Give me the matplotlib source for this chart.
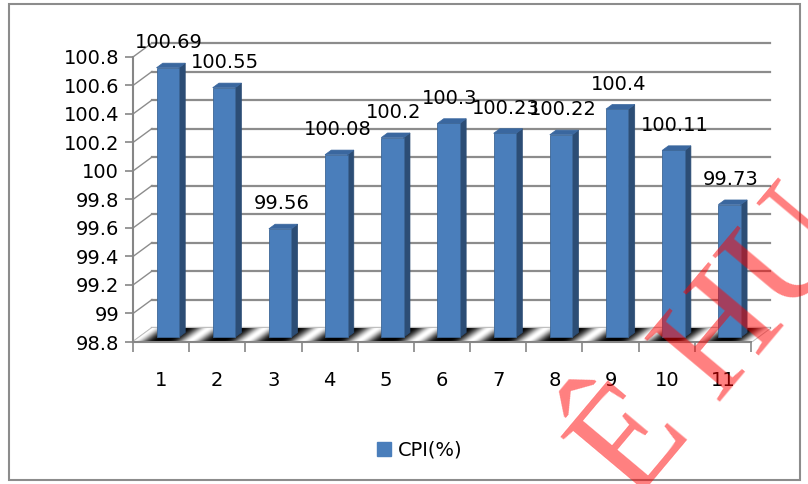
import matplotlib
matplotlib.use("Agg")
import matplotlib.pyplot as plt
import numpy as np
from matplotlib.patches import Polygon, Rectangle, Patch

# data
months = [1, 2, 3, 4, 5, 6, 7, 8, 9, 10, 11]
cpi = [100.69, 100.55, 99.56, 100.08, 100.2, 100.3, 100.23, 100.22, 100.4, 100.11, 99.73]
y_ticks = [98.8, 99, 99.2, 99.4, 99.6, 99.8, 100, 100.2, 100.4, 100.6, 100.8]
y_labels = ["98.8", "99", "99.2", "99.4", "99.6", "99.8", "100", "100.2", "100.4", "100.6", "100.8"]
series_name = "CPI(%)"

BASE = 98.8
DX, DY = 0.338, 0.098        # depth of the 3D box, in data units
FRONT, DEPTH = 0.35, 0.33    # bar front plane and bar depth (fractions of box depth)
WIDTH = 0.4
FONT = 14
C_FRONT, C_SIDE, C_TOP = "#4A7EBB", "#2C4D75", "#3A679F"
GRID = "#8C8C8C"

plt.rcParams["font.family"] = ["DejaVu Sans"]

fig = plt.figure(figsize=(8.08, 4.84), dpi=100)
ax = fig.add_axes([133 / 808, (484 - 342) / 484, 640.5 / 808, 306.4 / 484])
ax.set_xlim(0.5, 11.9)
ax.set_ylim(BASE, 100.95)
ax.patch.set_visible(False)

# back wall gridlines and the little diagonals from the front axis
for v in y_ticks:
    ax.plot([0.5 + DX, 11.5 + DX], [v + DY, v + DY], color=GRID, lw=1.6, zorder=1, clip_on=False)
    ax.plot([0.5, 0.5 + DX], [v, v + DY], color=GRID, lw=1.0, zorder=1, clip_on=False)

# floor with the striped gradient fill
floor = Polygon([(0.5, BASE), (11.5, BASE), (11.5 + DX, BASE + DY), (0.5 + DX, BASE + DY)],
                closed=True, facecolor="none", edgecolor="#BFBFBF", lw=1.5, zorder=2)
ax.add_patch(floor)
gx = np.linspace(0.5, 11.5 + DX, 900)
gy = np.linspace(BASE, BASE + DY, 20)
XX, YY = np.meshgrid(gx, gy)
u = XX - (YY - BASE) * (DX / DY)
shade = ((1 - np.cos(2 * np.pi * (u - np.round(u)))) / 2) ** 2
img = ax.imshow(shade, extent=(gx[0], gx[-1], gy[0], gy[-1]), origin="lower",
                cmap="gray", vmin=0, vmax=1, aspect="auto", zorder=2, interpolation="bilinear")
img.set_clip_path(floor)
ax.set_xlim(0.5, 11.9)
ax.set_ylim(BASE, 100.95)

# bars: front face through ax.bar, side and top faces as polygons
xs = np.array(months) + FRONT * DX
bottom = BASE + FRONT * DY
heights = np.array(cpi) - BASE
ax.bar(xs, heights, width=WIDTH, bottom=bottom, color=C_FRONT, edgecolor="#3C6696",
       lw=0.6, zorder=4)
for x, v in zip(xs, cpi):
    top = v + FRONT * DY
    r, l = x + WIDTH / 2, x - WIDTH / 2
    ddx, ddy = DEPTH * DX, DEPTH * DY
    ax.add_patch(Polygon([(r, bottom), (r + ddx, bottom + ddy), (r + ddx, top + ddy), (r, top)],
                         closed=True, facecolor=C_SIDE, edgecolor=C_SIDE, lw=0.5, zorder=3))
    ax.add_patch(Polygon([(l, top), (r, top), (r + ddx, top + ddy), (l + ddx, top + ddy)],
                         closed=True, facecolor=C_TOP, edgecolor=C_TOP, lw=0.5, zorder=3))
    ax.annotate(f"{v:g}", (x, top), xytext=(1, 18), textcoords="offset points",
                ha="center", va="center", fontsize=FONT, zorder=6, annotation_clip=False)

# axes
for s in ["top", "right"]:
    ax.spines[s].set_visible(False)
ax.spines["left"].set_bounds(BASE, 100.8)
ax.spines["bottom"].set_bounds(0.5, 11.5)
ax.spines["left"].set_color("#868686")
ax.spines["bottom"].set_color("#868686")
ax.spines["left"].set_linewidth(1.5)
ax.spines["bottom"].set_linewidth(1.5)
ax.set_yticks(y_ticks)
ax.set_yticklabels(y_labels)
ax.tick_params(axis="y", length=6, width=1.2, color="#868686", labelsize=FONT, pad=4)
ax.set_xticks(np.arange(0.5, 12.0, 1.0))
ax.set_xticklabels([])
ax.set_xticks(months, minor=True)
ax.set_xticklabels([str(m) for m in months], minor=True)
ax.tick_params(axis="x", which="major", length=7, width=1.2, color="#868686")
ax.tick_params(axis="x", which="minor", length=0, labelsize=FONT, pad=21)

# legend
fig.legend(handles=[Patch(facecolor=C_FRONT, edgecolor=C_FRONT)], labels=[series_name],
           loc="center", bbox_to_anchor=(420 / 808, 1 - 450 / 484), frameon=False,
           fontsize=FONT, handlelength=0.7, handleheight=0.7, handletextpad=0.35)

# chart border
fig.patches.append(Rectangle((9 / 808, 4 / 484), 791 / 808, 476 / 484, transform=fig.transFigure,
                             fill=False, edgecolor="#8C8C8C", lw=1.5))

# red watermark from the scanned page
fig.text(718 / 808, 1 - 348 / 484, "Ê HU", color="#FF0000", alpha=0.5, fontsize=108,
         family="Liberation Serif", rotation=50, rotation_mode="anchor",
         ha="center", va="center", zorder=10)

fig.savefig("out.png", dpi=100)
